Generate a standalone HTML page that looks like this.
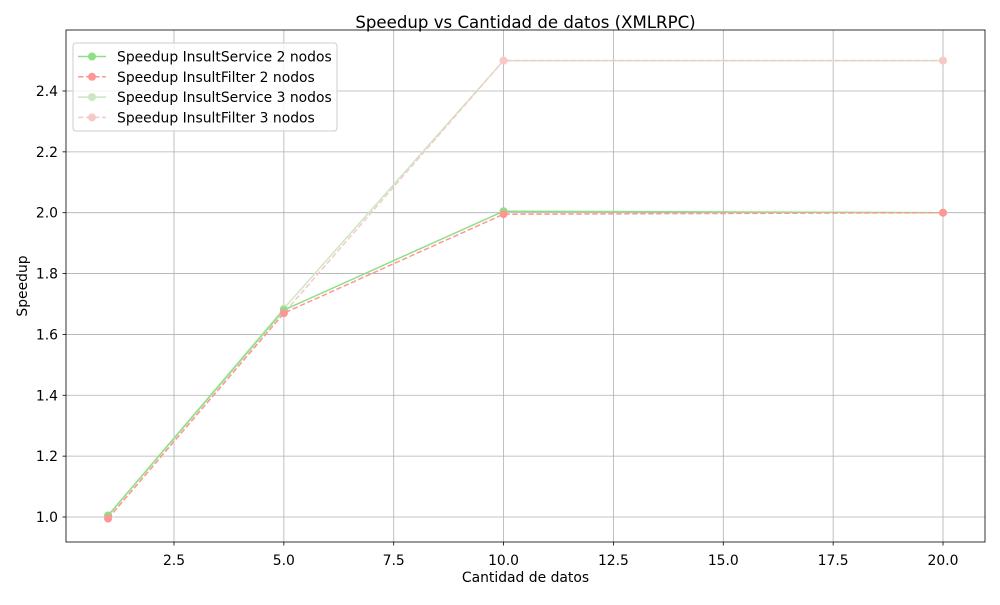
<!DOCTYPE html>
<html><head><meta charset="utf-8"><style>
body{margin:0;background:#fff;}
svg text{font-family:"DejaVu Sans","Liberation Sans",sans-serif;fill:#000;}
</style></head><body>
<svg id="chart" width="1000" height="600" xmlns="http://www.w3.org/2000/svg">
<rect width="1000" height="600" fill="#fff"/>
<text x="525.5" y="28" font-size="16.6" text-anchor="middle">Speedup vs Cantidad de datos (XMLRPC)</text>
<g id="grid"></g>
<g id="ticks"></g>
<g id="series"></g>
<rect x="66" y="30" width="919" height="512" fill="none" stroke="#000" stroke-width="0.8"/>
<text x="525.5" y="582" font-size="13.9" text-anchor="middle">Cantidad de datos</text>
<text transform="translate(27,286) rotate(-90)" font-size="13.9" text-anchor="middle">Speedup</text>
<g id="legend"></g>
</svg>
<script>
const xCategories=[1,5,10,20];
const service2=[1.005,1.68,2.005,2.0];
const filter2=[0.995,1.67,1.995,2.0];
const service3=[1.005,1.685,2.5,2.5];
const filter3=[0.995,1.67,2.5,2.5];
const seriesNames=["Speedup InsultService 2 nodos","Speedup InsultFilter 2 nodos","Speedup InsultService 3 nodos","Speedup InsultFilter 3 nodos"];
const xTicks=[2.5,5.0,7.5,10.0,12.5,15.0,17.5,20.0];
const yTicks=[1.0,1.2,1.4,1.6,1.8,2.0,2.2,2.4];

const NS="http://www.w3.org/2000/svg";
function X(v){return 174+(v-2.5)*43.943;}
function Y(v){return 517-(v-1.0)*304.29;}
function mk(tag,attrs,parent){const e=document.createElementNS(NS,tag);for(const k in attrs)e.setAttribute(k,attrs[k]);parent.appendChild(e);return e;}
const grid=document.getElementById('grid'),ticks=document.getElementById('ticks'),ser=document.getElementById('series'),leg=document.getElementById('legend');
xTicks.forEach(t=>{
 const g=mk('line',{x1:X(t),x2:X(t),y1:30,y2:542,stroke:'#b0b0b0','stroke-width':0.8},grid);
 
 
 mk('line',{x1:X(t),x2:X(t),y1:542,y2:545.5,stroke:'#000','stroke-width':0.8},ticks);
 const tx=mk('text',{x:X(t),y:565,'font-size':13.9,'text-anchor':'middle'},ticks);
 tx.textContent=t.toFixed(1);
 
 
});
yTicks.forEach(t=>{
 const g=mk('line',{x1:66,x2:985,y1:Y(t),y2:Y(t),stroke:'#b0b0b0','stroke-width':0.8},grid);
 
 
 mk('line',{x1:62.5,x2:66,y1:Y(t),y2:Y(t),stroke:'#000','stroke-width':0.8},ticks);
 const tx=mk('text',{x:58,y:Y(t)+5,'font-size':13.9,'text-anchor':'end'},ticks);
 tx.textContent=t.toFixed(1);
 
 
});
const seriesData=[service2,filter2,service3,filter3];
const colors=['#8fdf85','#ff9696','#c9e8c3','#f8c8c8'];
const dashes=['','5.5,2.5','','5.5,2.5'];
const sNames=['series-service-2','series-filter-2','series-service-3','series-filter-3'];
[2,3,0,1].forEach(i=>{
 const g=mk('g',{},ser);
 
 
 const pts=seriesData[i].map((v,j)=>X(xCategories[j])+','+Y(v)).join(' ');
 const pl=mk('polyline',{points:pts,fill:'none',stroke:colors[i],'stroke-width':1.5,'stroke-dasharray':dashes[i]},g);
 
 
 seriesData[i].forEach((v,j)=>{
  const c=mk('circle',{cx:X(xCategories[j]),cy:Y(v),r:4,fill:colors[i]},g);
  
  
 });
});
const box=mk('rect',{x:73,y:43,width:264,height:88,rx:3,fill:'#fff','fill-opacity':0.8,stroke:'#ccc','stroke-width':1},leg);


seriesNames.forEach((n,i)=>{
 const y=56.5+i*20.3;
 const g=mk('g',{},leg);
 
 
 mk('line',{x1:78,x2:106,y1:y,y2:y,stroke:colors[i],'stroke-width':1.5,'stroke-dasharray':dashes[i]},g);
 mk('circle',{cx:92,cy:y,r:4,fill:colors[i]},g);
 const t=mk('text',{x:117,y:y+5,'font-size':13.9},g);
 t.textContent=n;
});
</script>
</body></html>
